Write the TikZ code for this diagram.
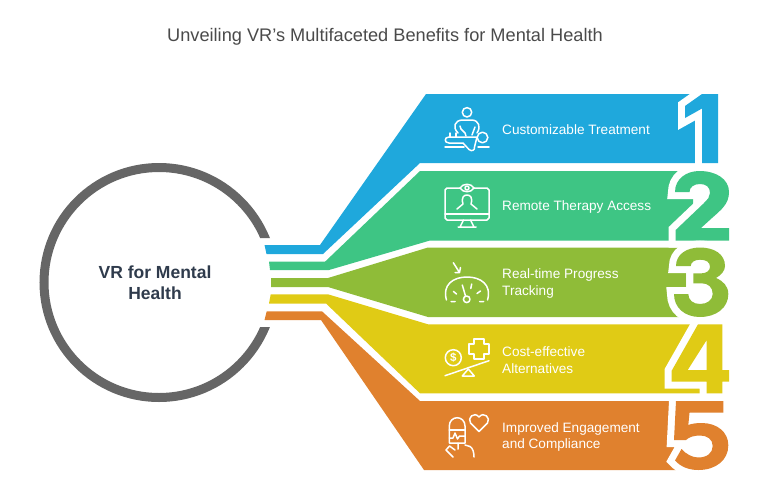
\documentclass[tikz,border=0pt]{standalone}
\usepackage{fontspec}
\setmainfont{Liberation Sans}
\definecolor{cblue}{HTML}{1FA8DC}
\definecolor{cgreen}{HTML}{3EC584}
\definecolor{colive}{HTML}{8FBC38}
\definecolor{cyellow}{HTML}{E0CB15}
\definecolor{corange}{HTML}{E0812E}
\definecolor{cring}{HTML}{666666}
\definecolor{ctitle}{HTML}{4A4A4A}
\definecolor{ccenter}{HTML}{2F3B4C}
\tikzset{
 glyph/.style={even odd rule,fill=#1,preaction={draw=white,line width=14pt,line join=miter,miter limit=6}},
 band/.style={fill=#1},
 ico/.style={draw=white,line width=1.5pt,line cap=round,line join=round},
 lab/.style={text=white,font=\fontsize{13.6}{16.5}\selectfont,anchor=west,align=left,inner sep=0pt},
}
\begin{document}
\begin{tikzpicture}[x=1pt,y=-1pt]
\useasboundingbox (0,0) rectangle (770,485);
\node[text=ctitle,font=\fontsize{18.2}{22}\selectfont,inner sep=0pt] (title) at (385,36.5) {Unveiling VR's Multifaceted Benefits for Mental Health};
\begin{scope}
\clip (30,150) -- (290,150) -- (290,238) -- (250,238) -- (250,327) -- (290,327) -- (290,415) -- (30,415) -- cycle;
\draw[cring,line width=9pt] (159,282.5) circle[radius=115];
\end{scope}
\node[text=ccenter,font=\fontsize{17.5}{21}\bfseries\selectfont,align=center,inner sep=0pt] (center) at (155,282.5) {VR for Mental\\Health};
% bands
\path[band=cblue] (264.5,245) -- (320,245) -- (426,94) -- (718,94) -- (718,163) -- (420,163) -- (323,254) -- (266.5,254) -- cycle;
\path[band=cgreen] (269,261.7) -- (325,261.7) -- (420,171) -- (693,171) -- (693,240.5) -- (430,240.5) -- (329,270) -- (270,270) -- cycle;
\path[band=colive] (271,278) -- (328,278) -- (428,247.5) -- (686,247.5) -- (686,317) -- (428,317) -- (328,287) -- (271,287) -- cycle;
\path[band=cyellow] (270.7,294.3) -- (328,294.3) -- (428,324.3) -- (700,324.3) -- (700,393.3) -- (420,393.3) -- (326,303.5) -- (269,303.5) -- cycle;
\path[band=corange] (266.7,311.3) -- (322,311.3) -- (420,401) -- (676,401) -- (676,470) -- (424,470) -- (321,320) -- (264.5,320) -- cycle;
% digits
\path[glyph=cblue] (702,94) -- (685,106) -- (685,118) -- (702,108.5) -- (702,163) -- (718,163) -- (718,94) -- cycle;
\path[glyph=cgreen] (675,192) .. controls (675,179) and (686,171) .. (699.5,171) .. controls (716,171) and (729,179) .. (729,192) .. controls (729,204) and (721,210) .. (712,218) -- (701,228) -- (729,228) -- (729,240.5) -- (675.7,240.5) -- (675.7,230) -- (703,204) .. controls (708,199) and (710,197) .. (710,193) .. controls (710,187) and (706,184) .. (700,184) .. controls (694,184) and (689.5,187) .. (689.5,192) -- cycle;
\path[glyph=colive] (676,266) .. controls (676,254) and (687,247.5) .. (700,247.5) .. controls (714,247.5) and (725,254) .. (725,266) .. controls (725,271) and (721,275) .. (716,278) .. controls (723,281) and (728.3,286) .. (728.3,294) .. controls (728.3,308) and (716,317) .. (700,317) .. controls (685,317) and (674,308) .. (674,294) -- (688.3,294) .. controls (688.3,300) and (693,304) .. (700,304) .. controls (707,304) and (712.7,300) .. (712.7,294) .. controls (712.7,287) and (708,283.3) .. (701.7,283.3) -- (693.3,283.3) -- (693.3,273.3) -- (701.7,273.3) .. controls (706,273.3) and (710,271) .. (710,266.7) .. controls (710,262) and (706,259.7) .. (700,259.7) .. controls (695,259.7) and (690.7,262) .. (690.7,266) -- cycle;
\path[glyph=cyellow] (698,324.3) -- (722.3,324.3) -- (722.3,370) -- (729,370) -- (729,381.7) -- (722.3,381.7) -- (722.3,393.3) -- (706.7,393.3) -- (706.7,381.7) -- (671.7,381.7) -- (671.7,370.7) -- cycle (706.7,340) -- (687.7,370) -- (706.7,370) -- cycle;
\path[glyph=corange] (676,401) -- (723.3,401) -- (723.3,412.7) -- (689.5,412.7) -- (688.3,425) .. controls (692,423.5) and (697,423) .. (701.7,423) .. controls (717,423) and (728.3,432) .. (728.3,445.3) .. controls (728.3,460) and (716,470) .. (698.3,470) .. controls (689,470) and (681,467) .. (675,460.5) -- (681.5,449) .. controls (686,454) and (692,457.5) .. (698.3,457.5) .. controls (707,457.5) and (712.7,453) .. (712.7,446) .. controls (712.7,439) and (707,435.5) .. (700,435.5) .. controls (694,435.5) and (689,437) .. (686,440) -- (674,440) -- cycle;
% labels
\node[lab] (t1) at (502,130) {Customizable Treatment};
\node[lab] (t2) at (502,207) {Remote Therapy Access};
\node[lab] (t3) at (502,283.5) {Real-time Progress\\Tracking};
\node[lab] (t4) at (502,360) {Cost-effective\\Alternatives};
\node[lab] (t5) at (502,437) {Improved Engagement\\and Compliance};
% icon 1
\draw[ico] (467,112.3) circle[radius=4.7];
\draw[ico] (458,133) .. controls (452,127) and (455,120.5) .. (462,120) -- (472,120) .. controls (479,120.5) and (481,127) .. (477,133);
\draw[ico] (466,136) .. controls (466,131) and (460,131) .. (460,126);
\draw[ico] (475,127) -- (472,135);
\draw[ico] (449,137) -- (477,137) (449,137) .. controls (444,137) and (444,143) .. (449,143) -- (463,143) -- (469,149.5) .. controls (472,152) and (475,150) .. (474.5,147) -- (477,137);
\draw[ico] (450,137) -- (450,133) (456,137) -- (456,133);
\draw[ico] (482.5,137.5) circle[radius=5.3];
\draw[ico] (445,147) -- (464,147) (478,147) -- (489,147);
% icon 2
\draw[ico] (460,188) -- (447,188) -- (445,190) -- (445,218) -- (447,220) -- (487,220) -- (489,218) -- (489,190) -- (487,188) -- (474,188);
\draw[ico] (445,214) -- (489,214);
\draw[ico] (460,188) .. controls (463,183) and (471,183) .. (474,188) .. controls (471,193) and (463,193) .. (460,188);
\draw[ico] (467,188) circle[radius=2];
\draw[ico] (463,204) .. controls (461,197) and (464,195) .. (467,195) .. controls (470,195) and (473,197) .. (471,204) -- (477,209) (463,204) -- (457,209);
\draw[ico] (463.5,220) -- (460,227) (470.5,220) -- (474,227) (458,227) -- (476,227);
% icon 3
\draw[ico] (453.3,262.7) -- (459.5,272.5) (455,272.5) -- (459.5,272.5) -- (460.5,267.5);
\draw[ico] (446.5,300) .. controls (442,285) and (453,277) .. (467,277) .. controls (481,277) and (492,285) .. (487.5,300);
\draw[ico] (466.7,299.3) circle[radius=3.3];
\draw[ico] (465.5,296) -- (462.3,285);
\draw[ico] (453.5,291.5) -- (456.5,294) (471.7,284) -- (470.8,288.5) (480.5,291) -- (477,293.5) (451,301.5) -- (455,301.5) (479.5,301.5) -- (483.5,301.5);
% icon 4
\draw[ico] (453.3,357.7) circle[radius=8];
\node[text=white,font=\fontsize{11.5}{11.5}\bfseries\selectfont,inner sep=0pt] (dollar) at (453.3,357.7) {\$};
\draw[ico] (474,339) -- (484,339) -- (484,344) -- (489,344) -- (489,354) -- (484,354) -- (484,359) -- (474,359) -- (474,354) -- (469,354) -- (469,344) -- (474,344) -- cycle;
\draw[ico] (445,375.7) -- (489,360.7);
\draw[ico] (468.3,369) -- (462.3,376) -- (474.3,376) -- cycle;
% icon 5
\draw[ico] (449.3,443) -- (449.3,426) .. controls (449.3,421) and (453,417.7) .. (457.2,417.7) .. controls (461.3,417.7) and (465,421) .. (465,426) -- (465,443) -- cycle;
\draw[ico] (449.3,430) -- (465,430);
\draw[ico] (449.3,438) -- (453,438) -- (455,433) -- (457.5,439) -- (459.5,436) -- (465,436);
\draw[ico] (479,431.5) -- (470.5,423) .. controls (467,418) and (474,411) .. (479,417) .. controls (484,411) and (491,418) .. (487.5,423) -- cycle;
\draw[ico] (453,457) -- (446,450) -- (449.5,446) -- (455,450);
\draw[ico] (458,443) -- (458,449) (465,445) -- (470,446.5) .. controls (473,448) and (474,453) .. (474,457);
\end{tikzpicture}
\end{document}
